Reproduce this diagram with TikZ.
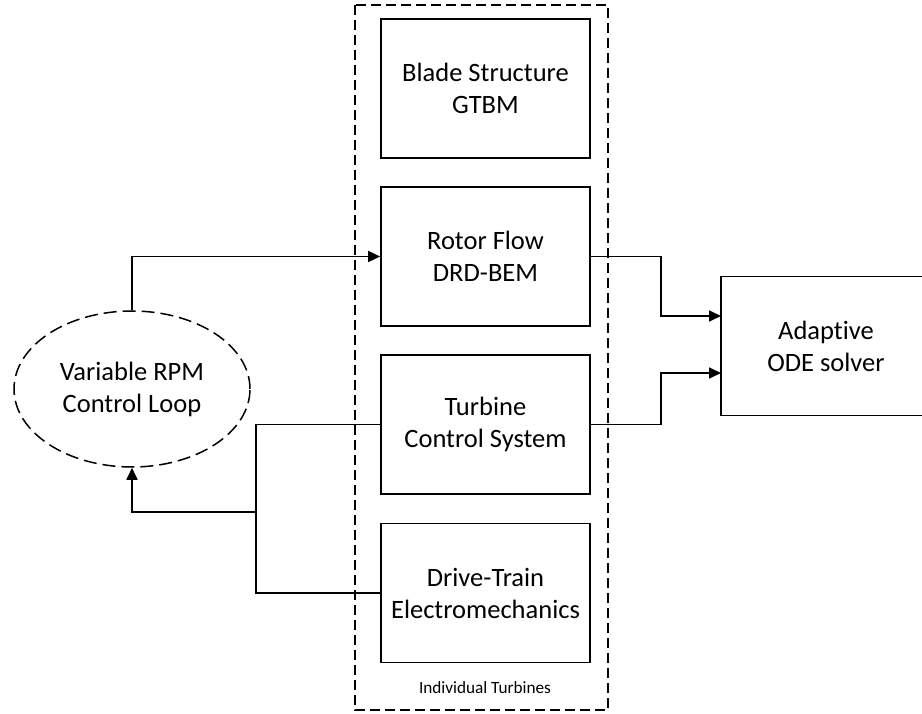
\documentclass[tikz,border=0pt]{standalone}
\usepackage{fontspec}
\setmainfont{Carlito}[Ligatures={NoCommon}]
\usetikzlibrary{arrows.meta,shapes.geometric}
\begin{document}
\begin{tikzpicture}[x=1pt,y=-1pt,
  blk/.style={draw,line width=1.7pt,minimum width=209pt,minimum height=139pt,inner sep=0pt,align=center,font=\fontsize{26.5}{32}\selectfont},
  conn/.style={line width=1.7pt},
  arr/.style={conn,-{Triangle[length=12pt,width=11pt]}},
  dashbox/.style={line width=1.5pt,dash pattern=on 10pt off 5pt},
  dashell/.style={line width=1.5pt,dash pattern=on 13pt off 6pt}]
\useasboundingbox (0,0) rectangle (922,714);
\clip (0,0) rectangle (922,714);
\draw[dashbox] (355,5) rectangle (608,710);
\node[blk] (blade) at (485.5,88.5) {Blade Structure\\GTBM};
\node[blk] (rotor) at (485.5,256.5) {Rotor Flow\\DRD-BEM};
\node[blk] (turb) at (485.5,424.5) {Turbine\\Control System};
\node[blk] (drive) at (485.5,593) {Drive-Train\\Electromechanics};
\node[blk,minimum width=210pt] (ode) at (826,346) {Adaptive\\ODE solver};
\node[ellipse,dashell,draw,minimum width=236pt,minimum height=156pt,inner sep=0pt,align=center,font=\fontsize{26.5}{32}\selectfont] (ell) at (132,389) {Variable RPM\\Control Loop};
\node[anchor=base,font=\fontsize{17.2}{20}\selectfont,inner sep=0pt] (lab) at (485,693) {Individual Turbines};
\coordinate (in1) at (721,316);
\coordinate (in2) at (721,373);
\coordinate (j) at (256,512);
\draw[arr] (ell.north) |- (rotor.west);
\draw[conn] (turb.west) -| (j) |- (drive.west);
\draw[arr] (j) -| (ell.south);
\draw[arr] (rotor.east) -- ++(70,0) |- (in1);
\draw[arr] (turb.east) -- ++(70,0) |- (in2);
\end{tikzpicture}
\end{document}
